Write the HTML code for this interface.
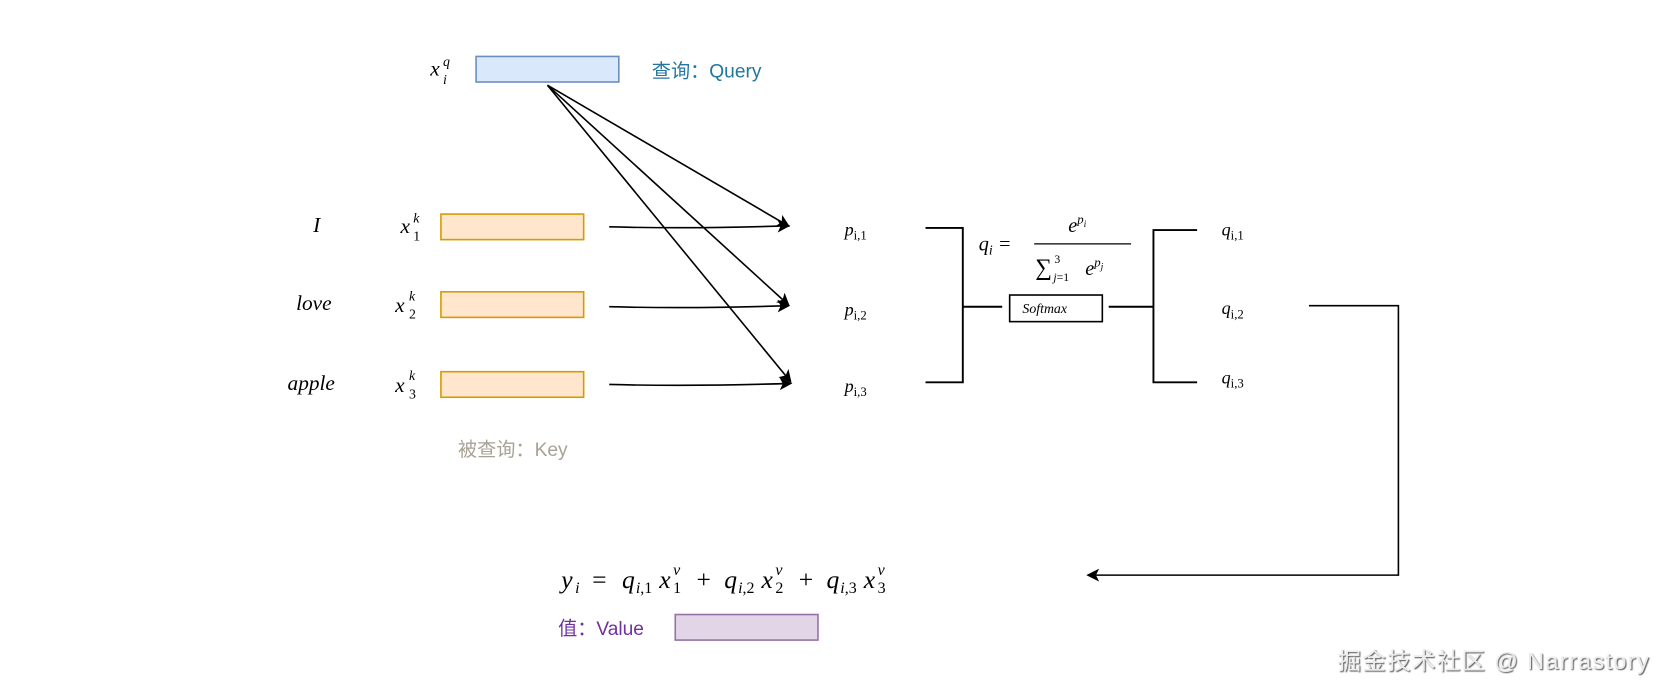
<!DOCTYPE html>
<html><head><meta charset="utf-8"><style>
html,body{margin:0;padding:0;background:#fff;width:1670px;height:696px;overflow:hidden}
svg{display:block}
.m{font-family:"Liberation Serif",serif;font-style:italic;fill:#000}
.n{font-style:normal}
.cn{font-family:"Liberation Sans","Noto Sans CJK SC",sans-serif}
</style></head><body>
<svg width="1670" height="696" viewBox="0 0 1568 653.5" xmlns="http://www.w3.org/2000/svg">
<defs>
<marker id="a" markerWidth="12" markerHeight="12" refX="10" refY="6" orient="auto" markerUnits="userSpaceOnUse">
<path d="M0,0 L12,6 L0,12 L3,6 Z" fill="#000"/></marker>
<filter id="sh"><feDropShadow dx="1" dy="1" stdDeviation="0.6" flood-color="#555"/></filter>
</defs>
<rect x="447" y="53" width="134" height="24" fill="#dae8fc" stroke="#6c8ebf" stroke-width="1.5"/>
<text x="404" y="71" class="m" font-size="20">x</text><text x="416" y="62" class="m" font-size="13">q</text><text x="416" y="79" class="m" font-size="13">i</text>
<text x="612" y="73" class="cn" font-size="18" fill="#23779f">查询：Query</text>

<g fill="#ffe6cc" stroke="#d79b00" stroke-width="1.5">
<rect x="414" y="201" width="134" height="24"/><rect x="414" y="274" width="134" height="24"/><rect x="414" y="349" width="134" height="24"/></g>
<text x="294" y="218" class="m" font-size="20">I</text>
<text x="278" y="291" class="m" font-size="20">love</text>
<text x="270" y="366" class="m" font-size="20">apple</text>
<g class="m">
<text x="376" y="219" font-size="20">x</text><text x="388" y="209" font-size="13">k</text><text x="388" y="226" font-size="13" class="m n">1</text>
<text x="371" y="293" font-size="20">x</text><text x="384" y="282" font-size="13">k</text><text x="384" y="299" font-size="13" class="m n">2</text>
<text x="371" y="368" font-size="20">x</text><text x="384" y="357" font-size="13">k</text><text x="384" y="374" font-size="13" class="m n">3</text>
</g>
<text x="430" y="428" class="cn" font-size="18" fill="#a8a196">被查询：Key</text>

<g stroke="#000" stroke-width="1.5" fill="none" marker-end="url(#a)">
<path d="M514,80 L740,212"/><path d="M514,80 L740,286"/><path d="M514,80 L742,358"/>
<path d="M572,213 Q650,215 740,212"/><path d="M572,288 Q650,290 740,287"/><path d="M572,361 Q650,363 742,360"/>
<path d="M1229,287 L1313,287 L1313,540 L1022,540"/>
</g>
<g class="m" font-size="17">
<text x="793" y="221">p<tspan font-size="12" class="n" dy="4">i,1</tspan></text>
<text x="793" y="296">p<tspan font-size="12" class="n" dy="4">i,2</tspan></text>
<text x="793" y="368">p<tspan font-size="12" class="n" dy="4">i,3</tspan></text>
<text x="1147" y="221">q<tspan font-size="12" class="n" dy="4">i,1</tspan></text>
<text x="1147" y="295">q<tspan font-size="12" class="n" dy="4">i,2</tspan></text>
<text x="1147" y="360">q<tspan font-size="12" class="n" dy="4">i,3</tspan></text>
</g>
<g stroke="#000" stroke-width="1.8" fill="none">
<path d="M869,214 L904,214 L904,359 L869,359"/><path d="M904,288 L941,288"/>
<path d="M1041,288 L1083,288"/><path d="M1124,216 L1083,216 L1083,359 L1124,359"/>
<rect x="948" y="277" width="87" height="25" stroke-width="1.5"/>
</g>
<text x="960" y="294" class="m" font-size="13">Softmax</text>
<text x="919" y="235" class="m" font-size="19">q<tspan font-size="13" dy="4">i</tspan><tspan class="n" dy="-4" dx="6">=</tspan></text>
<text x="1003" y="218" class="m" font-size="19">e<tspan font-size="12" dy="-8">p</tspan><tspan font-size="9" dy="3">i</tspan></text>
<line x1="971" y1="229" x2="1062" y2="229" stroke="#000" stroke-width="1.2"/>
<text x="972" y="258" class="m n" font-size="22">∑</text>
<text x="990" y="247" class="m n" font-size="11">3</text>
<text x="989" y="264" class="m" font-size="11">j<tspan class="n">=1</tspan></text>
<text x="1019" y="258" class="m" font-size="19">e<tspan font-size="12" dy="-8">p</tspan><tspan font-size="9" dy="3">j</tspan></text>

<g class="m" font-size="24">
<text x="527" y="552">y</text><text x="540" y="557" font-size="15">i</text>
<text x="556" y="552" class="n">=</text>
<text x="584" y="552">q</text><text x="597" y="557" font-size="15">i<tspan class="n">,1</tspan></text>
<text x="619" y="552">x</text><text x="632" y="540" font-size="15">v</text><text x="632" y="557" font-size="15" class="n">1</text>
<text x="654" y="552" class="n">+</text>
<text x="680" y="552">q</text><text x="693" y="557" font-size="15">i<tspan class="n">,2</tspan></text>
<text x="715" y="552">x</text><text x="728" y="540" font-size="15">v</text><text x="728" y="557" font-size="15" class="n">2</text>
<text x="750" y="552" class="n">+</text>
<text x="776" y="552">q</text><text x="789" y="557" font-size="15">i<tspan class="n">,3</tspan></text>
<text x="811" y="552">x</text><text x="824" y="540" font-size="15">v</text><text x="824" y="557" font-size="15" class="n">3</text>
</g>

<text x="524" y="596" class="cn" font-size="18" fill="#7030a0">值：Value</text>
<rect x="634" y="577" width="134" height="24" fill="#e1d5e7" stroke="#9673a6" stroke-width="1.5"/>

<text x="1256" y="628" class="cn" font-size="22" fill="#ececec" filter="url(#sh)" textLength="292">掘金技术社区 @ Narrastory</text>
</svg>
</body></html>
